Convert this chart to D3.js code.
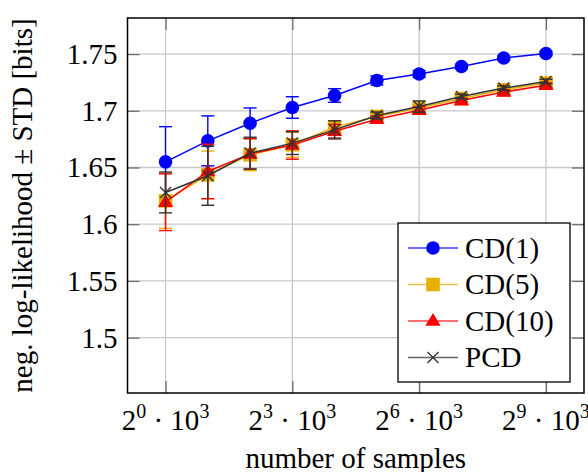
<!DOCTYPE html>
<html>
<head>
<meta charset="utf-8">
<script src="https://cdn.jsdelivr.net/npm/d3@7"></script>
<style>
  body { margin: 0; background: #fff; }
  svg text { font-family: "Liberation Serif", "Times New Roman", Tinos, "DejaVu Serif", serif; fill: #000; }
</style>
</head>
<body>
<div id="chart"></div>
<script>
// exponents k of 2^k * 10^3 samples
const exponents = [0, 1, 2, 3, 4, 5, 6, 7, 8, 9];
const xTicks = [0, 3, 6, 9];
const yTicks = [1.5, 1.55, 1.6, 1.65, 1.7, 1.75];
const yTickLabels = ["1.5", "1.55", "1.6", "1.65", "1.7", "1.75"];

const seriesNames = ["CD(1)", "CD(5)", "CD(10)", "PCD"];
const cd1Mean  = [1.655, 1.6735, 1.689, 1.7029, 1.7135, 1.7267, 1.7324, 1.739, 1.7465, 1.7505];
const cd1Std   = [0.031, 0.022, 0.0135, 0.0095, 0.006, 0.004, 0.003, 0.002, 0.002, 0.002];
const cd5Mean  = [1.6206, 1.6435, 1.6612, 1.670, 1.6856, 1.695, 1.7024, 1.7108, 1.7185, 1.7244];
const cd5Std   = [0.0243, 0.021, 0.014, 0.011, 0.005, 0.003, 0.003, 0.002, 0.002, 0.002];
const cd10Mean = [1.6194, 1.6465, 1.662, 1.6698, 1.682, 1.6925, 1.7005, 1.709, 1.7165, 1.7225];
const cd10Std  = [0.025, 0.024, 0.0135, 0.0125, 0.006, 0.003, 0.003, 0.002, 0.002, 0.002];
const pcdMean  = [1.628, 1.6427, 1.6627, 1.6715, 1.6832, 1.6959, 1.7037, 1.7126, 1.72, 1.7258];
const pcdStd   = [0.018, 0.026, 0.014, 0.010, 0.008, 0.003, 0.005, 0.002, 0.002, 0.002];

const series = [
  {name: seriesNames[0], mean: cd1Mean,  std: cd1Std,  color: "#0000ff", mark: "circle"},
  {name: seriesNames[1], mean: cd5Mean,  std: cd5Std,  color: "#e6b000", mark: "square"},
  {name: seriesNames[2], mean: cd10Mean, std: cd10Std, color: "#ff0000", mark: "triangle"},
  {name: seriesNames[3], mean: pcdMean,  std: pcdStd,  color: "#333333", mark: "cross"}
];

const W = 588, H = 472;
const margin = {top: 18, right: 4, bottom: 79, left: 127.5};
const width = W - margin.left - margin.right;
const height = H - margin.top - margin.bottom;

const svg = d3.select("#chart").append("svg")
    .attr("width", W)
    .attr("height", H)
    .attr("font-family", "'Liberation Serif', 'Times New Roman', serif")
  .append("g")
    .attr("transform", `translate(${margin.left},${margin.top})`);

const x = d3.scaleLinear().domain([-0.9, 9.9]).range([0, width]);
const y = d3.scaleLinear().domain([1.4512, 1.7818]).range([height, 0]);

// grid lines
svg.append("g").selectAll("line").data(xTicks).join("line")
    .attr("x1", d => x(d)).attr("x2", d => x(d))
    .attr("y1", 0).attr("y2", height)
    .attr("stroke", "#c8c8c8").attr("stroke-width", 1.3);
svg.append("g").selectAll("line").data(yTicks).join("line")
    .attr("x1", 0).attr("x2", width)
    .attr("y1", d => y(d)).attr("y2", d => y(d))
    .attr("stroke", "#c8c8c8").attr("stroke-width", 1.3);

// axes: ticks pointing inward on all four sides
const tickLen = 12;
const axB = svg.append("g").attr("transform", `translate(0,${height})`)
    .call(d3.axisBottom(x).tickValues(xTicks).tickSizeInner(-tickLen).tickSizeOuter(0).tickFormat(""));
const axT = svg.append("g")
    .call(d3.axisTop(x).tickValues(xTicks).tickSizeInner(-tickLen).tickSizeOuter(0).tickFormat(""));
const axL = svg.append("g")
    .call(d3.axisLeft(y).tickValues(yTicks).tickSizeInner(-tickLen).tickSizeOuter(0).tickFormat(""));
const axR = svg.append("g").attr("transform", `translate(${width},0)`)
    .call(d3.axisRight(y).tickValues(yTicks).tickSizeInner(-tickLen).tickSizeOuter(0).tickFormat(""));
[axB, axT, axL, axR].forEach(a => {
  a.select(".domain").remove();
  a.selectAll(".tick line").attr("stroke", "#6e6e6e").attr("stroke-width", 1.3);
});

// x tick labels: 2^k · 10^3
const xl = svg.append("g").selectAll("text").data(xTicks).join("text")
    .attr("x", d => x(d))
    .attr("y", height + 37)
    .attr("text-anchor", "middle")
    .style("font-size", "29px");
xl.append("tspan").text("2");
xl.append("tspan").attr("dy", -12).style("font-size", "20px").text(d => d);
xl.append("tspan").attr("dy", 12).text(" \u00b7 10");
xl.append("tspan").attr("dy", -12).style("font-size", "20px").text("3");

// y tick labels
svg.append("g").selectAll("text").data(yTicks).join("text")
    .attr("x", -10)
    .attr("y", d => y(d))
    .attr("dy", "0.34em")
    .attr("text-anchor", "end")
    .style("font-size", "29px")
    .text((d, i) => yTickLabels[i]);

// axis labels
svg.append("text")
    .attr("x", width / 2)
    .attr("y", height + 75)
    .attr("text-anchor", "middle")
    .style("font-size", "29px")
    .text("number of samples");

svg.append("text")
    .attr("transform", "rotate(-90)")
    .attr("x", -height / 2)
    .attr("y", -96)
    .attr("text-anchor", "middle")
    .style("font-size", "29px")
    .text("neg. log-likelihood \u00b1 STD [bits]");

// marker drawing helper
function drawMark(g, mark, color, cx, cy) {
  if (mark === "circle") {
    g.append("circle").attr("cx", cx).attr("cy", cy).attr("r", 6.8).attr("fill", color);
  } else if (mark === "square") {
    g.append("rect").attr("x", cx - 6.8).attr("y", cy - 6.8)
      .attr("width", 13.6).attr("height", 13.6).attr("fill", color);
  } else if (mark === "triangle") {
    const s = 8;
    g.append("path")
      .attr("d", `M${cx},${cy - s} L${cx + s * 0.95},${cy + s * 0.6} L${cx - s * 0.95},${cy + s * 0.6}Z`)
      .attr("fill", color);
  } else {
    const s = 5.5;
    g.append("path")
      .attr("d", `M${cx - s},${cy - s}L${cx + s},${cy + s}M${cx - s},${cy + s}L${cx + s},${cy - s}`)
      .attr("stroke", color).attr("stroke-width", 1.4).attr("fill", "none");
  }
}

const line = d3.line().x(d => x(d.k)).y(d => y(d.m));

series.forEach(s => {
  const pts = exponents.map((k, i) => ({k: k, m: s.mean[i], sd: s.std[i]}));
  const g = svg.append("g");

  // error bars
  pts.forEach(p => {
    const px = x(p.k);
    g.append("line").attr("x1", px).attr("x2", px)
      .attr("y1", y(p.m - p.sd)).attr("y2", y(p.m + p.sd))
      .attr("stroke", s.color).attr("stroke-width", 1.4);
    [p.m - p.sd, p.m + p.sd].forEach(v => {
      g.append("line").attr("x1", px - 6.5).attr("x2", px + 6.5)
        .attr("y1", y(v)).attr("y2", y(v))
        .attr("stroke", s.color).attr("stroke-width", 1.4);
    });
  });

  g.append("path").datum(pts)
    .attr("d", line)
    .attr("fill", "none")
    .attr("stroke", s.color)
    .attr("stroke-width", 1.5);

  pts.forEach(p => drawMark(g, s.mark, s.color, x(p.k), y(p.m)));
});

// frame
svg.append("rect")
    .attr("width", width).attr("height", height)
    .attr("fill", "none").attr("stroke", "#000").attr("stroke-width", 1.5);

// legend
const lg = svg.append("g").attr("transform", `translate(${398 - margin.left},${223 - margin.top})`);
lg.append("rect")
    .attr("width", 172).attr("height", 159)
    .attr("fill", "#fff").attr("stroke", "#000").attr("stroke-width", 1.3);
series.forEach((s, i) => {
  const cy = 25 + i * 36.5;
  lg.append("line").attr("x1", 10).attr("x2", 60).attr("y1", cy).attr("y2", cy)
    .attr("stroke", s.color).attr("stroke-width", 1.5).attr("opacity", 0.75);
  drawMark(lg, s.mark, s.color, 35, cy);
  lg.append("text")
    .attr("x", 67).attr("y", cy).attr("dy", "0.34em")
    .style("font-size", "29px")
    .text(s.name);
});
</script>
</body>
</html>
